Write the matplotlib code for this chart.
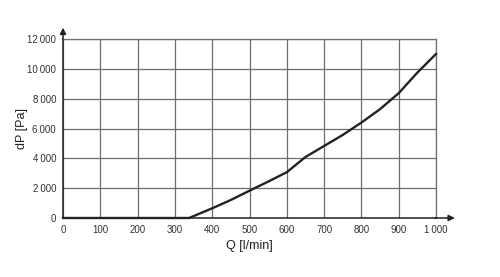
import matplotlib
matplotlib.use("Agg")
import matplotlib.pyplot as plt

Q = [0, 300, 338, 400, 450, 500, 550, 600, 650, 700, 750, 800, 850, 900, 950, 1000]
dP = [0, 0, 0, 650, 1210, 1830, 2440, 3070, 4090, 4830, 5570, 6400, 7300, 8370, 9750, 11000]
xticks = [0, 100, 200, 300, 400, 500, 600, 700, 800, 900, 1000]
yticks = [0, 2000, 4000, 6000, 8000, 10000, 12000]
ytick_labels = ["0", "2\u2009000", "4\u2009000", "6\u2009000", "8\u2009000", "10\u2009000", "12\u2009000"]
xtick_labels = ["0", "100", "200", "300", "400", "500", "600", "700", "800", "900", "1\u2009000"]

plt.rcParams['font.family'] = ['Liberation Sans', 'DejaVu Sans']

fig = plt.figure(figsize=(5.0, 2.77), dpi=100)
ax = fig.add_axes([0.126, 0.213, 0.746, 0.646])
ax.set_xlim(0, 1000)
ax.set_ylim(0, 12000)
ax.set_xticks(xticks)
ax.set_xticklabels(xtick_labels)
ax.set_yticks(yticks)
ax.set_yticklabels(ytick_labels)
ax.grid(True, color="#6e6e6e", linewidth=0.9)
ax.set_axisbelow(True)
for s in ["top", "right"]:
    ax.spines[s].set_color("#6e6e6e")
    ax.spines[s].set_linewidth(0.9)
for s in ["left", "bottom"]:
    ax.spines[s].set_color("#222222")
    ax.spines[s].set_linewidth(1.1)
ax.tick_params(length=0, pad=5, labelsize=7, colors="#333333")

ax.plot(Q, dP, color="#222222", linewidth=1.7, zorder=3, clip_on=False)

ax.annotate("", xy=(1058, 0), xytext=(990, 0), xycoords="data",
            arrowprops=dict(arrowstyle="-|>", color="#222222", lw=1.1, mutation_scale=9),
            annotation_clip=False)
ax.annotate("", xy=(0, 12950), xytext=(0, 11800), xycoords="data",
            arrowprops=dict(arrowstyle="-|>", color="#222222", lw=1.1, mutation_scale=9),
            annotation_clip=False)

ax.set_xlabel("Q [l/min]", fontsize=9, color="#222222", labelpad=4)
ax.set_ylabel("dP [Pa]", fontsize=9, color="#222222")
ax.yaxis.set_label_coords(-0.094, 0.5)

fig.savefig("out.png", dpi=100)
